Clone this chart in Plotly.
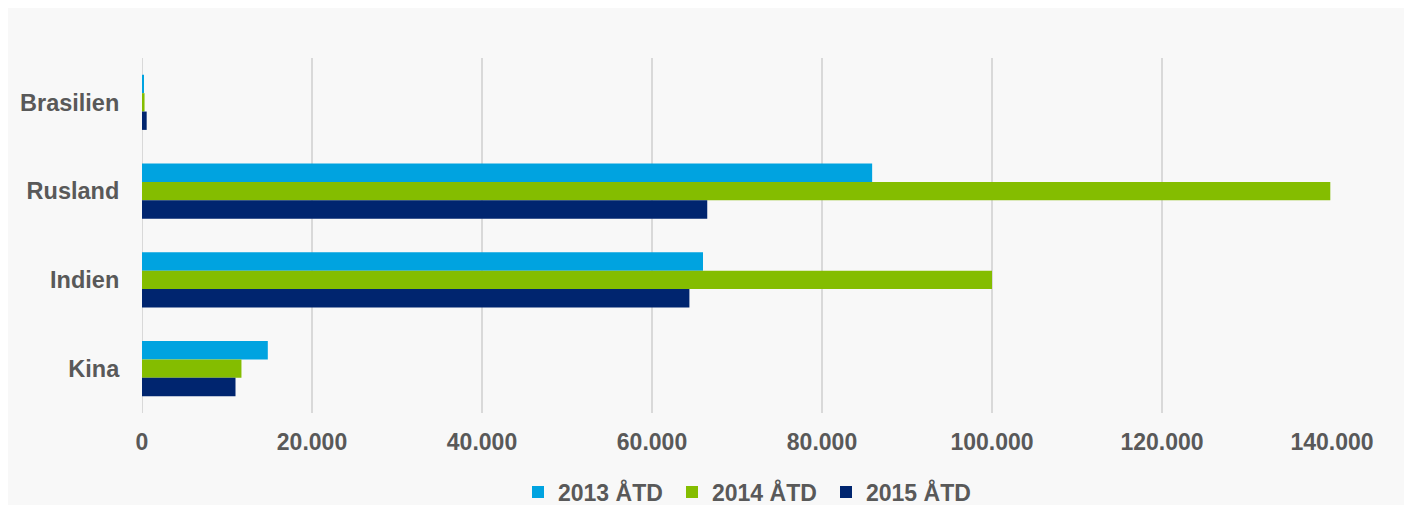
import plotly.graph_objects as go

categories = ["Brasilien", "Rusland", "Indien", "Kina"]
series_names = ["2013 ÅTD", "2014 ÅTD", "2015 ÅTD"]
v2013 = [180, 85900, 66000, 14800]
v2014 = [300, 139800, 100000, 11700]
v2015 = [550, 66500, 64400, 11000]
tick_vals = [0, 20000, 40000, 60000, 80000, 100000, 120000, 140000]
tick_text = ["0", "20.000", "40.000", "60.000", "80.000", "100.000", "120.000", "140.000"]

colors = ["#00A3E0", "#84BD00", "#00256F"]
TXT = "#595959"
FONT = "Arial, Liberation Sans, sans-serif"

fig = go.Figure()
for name, vals, col in zip(series_names, [v2013, v2014, v2015], colors):
    fig.add_trace(go.Bar(
        y=categories, x=vals, name=name, orientation="h",
        marker=dict(color=col, line=dict(width=0)),
    ))

# page body has an 8px margin, so figure coords = screen coords - 8
W, H = 1404, 497
L, R, T, B = 134, 80, 50, 92
pw = W - L - R
ph = H - T - B

fig.update_layout(
    width=W, height=H,
    margin=dict(l=L, r=R, t=T, b=B, autoexpand=False),
    barmode="group",
    bargap=0.38,
    bargroupgap=0,
    paper_bgcolor="#f8f8f8",
    plot_bgcolor="rgba(0,0,0,0)",
    font=dict(family=FONT, color=TXT, size=23),
    showlegend=True,
    legend=dict(
        orientation="h", x=(741 - L) / pw, xanchor="center",
        y=-(484 - T - ph) / ph, yanchor="middle",
        font=dict(family=FONT, size=23, color=TXT, weight="bold"),
        bgcolor="rgba(0,0,0,0)", itemwidth=30, tracegroupgap=0,
        entrywidth=109,
    ),
    xaxis=dict(
        range=[0, 140000], tickvals=tick_vals, ticktext=tick_text,
        showgrid=True, gridcolor="#d9d9d9", gridwidth=2,
        zeroline=False, showline=False,
        ticks="outside", ticklen=8, tickcolor="rgba(0,0,0,0)",
        tickfont=dict(family=FONT, size=23, color=TXT, weight="bold"),
        automargin=False, fixedrange=True,
    ),
    yaxis=dict(
        autorange="reversed", type="category",
        showgrid=False, zeroline=False,
        showline=False,
        ticks="outside", ticklen=17, tickcolor="rgba(0,0,0,0)",
        tickfont=dict(family=FONT, size=23.5, color=TXT, weight="bold"),
        automargin=False, fixedrange=True,
    ),
    shapes=[
        dict(type="line", xref="x", yref="paper", x0=0, x1=0, y0=0, y1=1,
             line=dict(color="#d9d9d9", width=2), layer="below"),
    ],
)

fig.write_html("out.html")
